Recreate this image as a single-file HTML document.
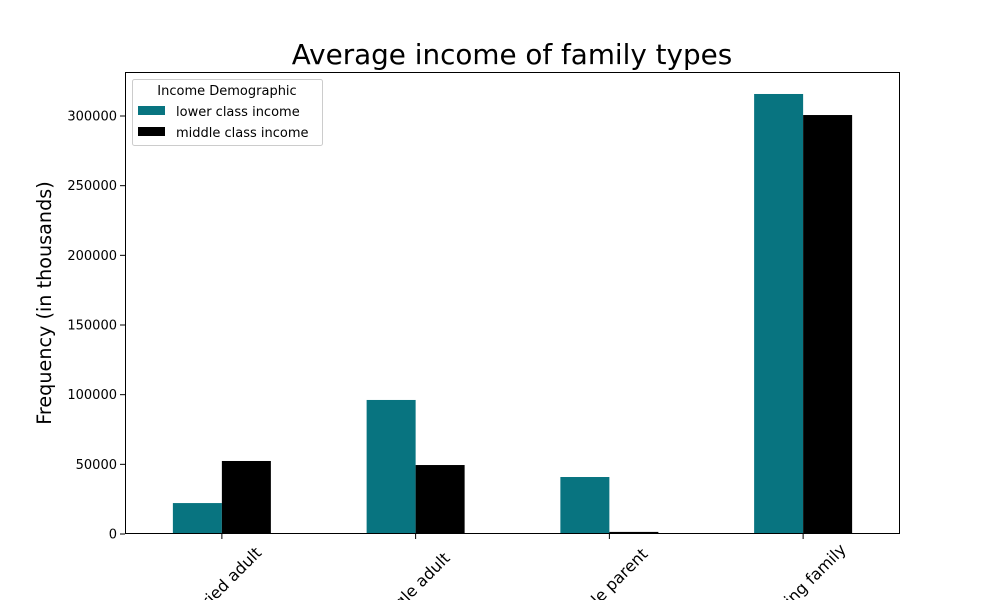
<!DOCTYPE html>
<html><head><meta charset="utf-8"><style>html,body{margin:0;background:#fff;width:1000px;height:600px;overflow:hidden}svg{display:block;overflow:hidden;font-family:"DejaVu Sans","Liberation Sans",sans-serif}</style></head>
<body>
<svg id="chart" width="1000" height="600">
<text x="512" y="64" font-size="27.8" text-anchor="middle">Average income of family types</text>
<text transform="translate(51,303) rotate(-90)" font-size="19.2" text-anchor="middle">Frequency (in thousands)</text>
<g id="bars"></g><g id="axes"></g>
<g>
<rect x="132.5" y="79.5" width="190" height="66" rx="2" fill="#fff" stroke="#ccc"/>
<text x="227" y="95" font-size="13" text-anchor="middle">Income Demographic</text>
<rect x="138" y="106" width="27" height="9" fill="#087480"/>
<text x="176" y="116" font-size="13">lower class income</text>
<rect x="138" y="127" width="27" height="9" fill="#000"/>
<text x="176" y="137" font-size="13">middle class income</text>
</g>
</svg>
<script>
const categories=["married adult","single adult","single parent","working family"];
const lowerValues=[22200,96200,40900,315800];
const middleValues=[52400,49500,1500,300700];
const yTicks=[0,50000,100000,150000,200000,250000,300000];
const L=125,R=900,T=72,B=534;
const NS="http://www.w3.org/2000/svg";
const y=v=>B-v*(418/300000);
const xc=i=>L+(R-L)*(i+0.5)/categories.length;
const bw=49;
function mk(t,a,p){const e=document.createElementNS(NS,t);for(const k in a)e.setAttribute(k,a[k]);p.appendChild(e);return e;}
const bars=document.getElementById('bars'),axes=document.getElementById('axes');
categories.forEach((c,i)=>{
 const b1=mk('rect',{x:xc(i)-bw,y:y(lowerValues[i]),width:bw,height:B-y(lowerValues[i]),fill:'#087480'},bars);
 
 
 const b2=mk('rect',{x:xc(i),y:y(middleValues[i]),width:bw,height:B-y(middleValues[i]),fill:'#000'},bars);
 
 
 mk('line',{x1:xc(i),x2:xc(i),y1:B,y2:B+5,stroke:'#000'},axes);
 const t=mk('text',{'font-size':16,'text-anchor':'middle','dominant-baseline':'middle',transform:`translate(${xc(i)-1},${B+55}) rotate(-45)`},axes);
 t.textContent=c;
 
 
});
yTicks.forEach(v=>{
 mk('line',{x1:L-5,x2:L,y1:y(v),y2:y(v),stroke:'#000'},axes);
 const t=mk('text',{x:L-8,y:y(v)+4.5,'font-size':13,'text-anchor':'end'},axes);
 t.textContent=v;
 
 
});
const f=mk('rect',{x:L+.5,y:T+.5,width:R-L-1,height:B-T-1,fill:'none',stroke:'#000'},axes);


</script>
</body></html>
